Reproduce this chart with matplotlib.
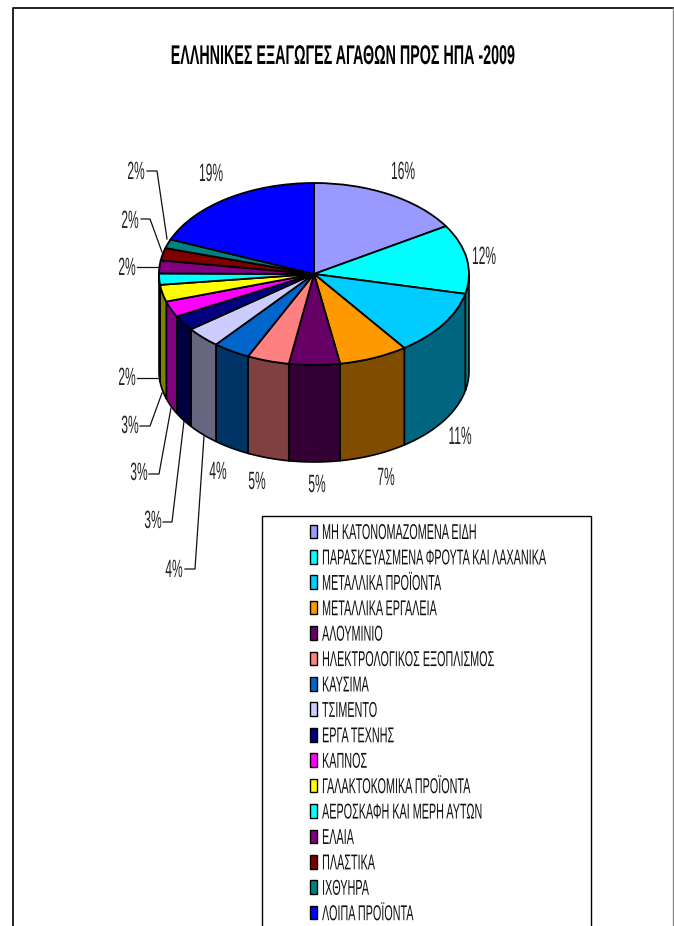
import matplotlib
matplotlib.use("Agg")
import matplotlib.pyplot as plt
from matplotlib.patches import Patch, Polygon, Rectangle
from matplotlib.patheffects import AbstractPathEffect
from matplotlib.transforms import Affine2D, Bbox
import numpy as np

plt.rcParams['font.family'] = ['Liberation Sans', 'DejaVu Sans']

title = "ΕΛΛΗΝΙΚΕΣ ΕΞΑΓΩΓΕΣ ΑΓΑΘΩΝ ΠΡΟΣ ΗΠΑ -2009"

categories = ["ΜΗ ΚΑΤΟΝΟΜΑΖΟΜΕΝΑ ΕΙΔΗ", "ΠΑΡΑΣΚΕΥΑΣΜΕΝΑ ΦΡΟΥΤΑ ΚΑΙ ΛΑΧΑΝΙΚΑ",
              "ΜΕΤΑΛΛΙΚΑ ΠΡΟΪΟΝΤΑ", "ΜΕΤΑΛΛΙΚΑ ΕΡΓΑΛΕΙΑ", "ΑΛΟΥΜΙΝΙΟ",
              "ΗΛΕΚΤΡΟΛΟΓΙΚΟΣ ΕΞΟΠΛΙΣΜΟΣ", "ΚΑΥΣΙΜΑ", "ΤΣΙΜΕΝΤΟ", "ΕΡΓΑ ΤΕΧΝΗΣ",
              "ΚΑΠΝΟΣ", "ΓΑΛΑΚΤΟΚΟΜΙΚΑ ΠΡΟΪΟΝΤΑ", "ΑΕΡΟΣΚΑΦΗ ΚΑΙ ΜΕΡΗ ΑΥΤΩΝ",
              "ΕΛΑΙΑ", "ΠΛΑΣΤΙΚΑ", "ΙΧΘΥΗΡΑ", "ΛΟΙΠΑ ΠΡΟΪΟΝΤΑ"]
values = [16.2, 12.3, 11.6, 7.2, 5.3, 4.4, 3.9, 3.7, 2.7, 2.8, 3.0, 2.0, 2.3, 2.2, 1.6, 18.8]
pct_labels = ["16%", "12%", "11%", "7%", "5%", "5%", "4%", "4%", "3%", "3%", "3%", "2%", "2%", "2%", "2%", "19%"]
colors = ["#9999FF", "#00FFFF", "#00CCFF", "#FF9900", "#660066", "#FF8080", "#0066CC", "#CCCCFF",
          "#000080", "#FF00FF", "#FFFF00", "#00FFFF", "#800080", "#800000", "#008080", "#0000FF"]
side_colors = ["#4D4D80", "#008080", "#006680", "#804D00", "#330033", "#804040", "#003366", "#666680",
               "#000040", "#800080", "#808000", "#008080", "#400040", "#400000", "#004040", "#000080"]

# label anchor in pixels, then leader line in pixels (None = no leader)
label_pos = [(403, 172), (484, 257), (460, 437), (386, 478), (317, 485), (257, 482), (218, 472),
             (174, 570), (153, 521), (139, 473), (130, 426), (127, 378), (127, 268), (130, 221),
             (136, 172), (211, 174)]
leaders = [None, None, None, None, None, None, None,
           [(185, 569), (195, 569), (204, 436)],
           [(163, 522), (172, 522), (184, 421)],
           [(149, 474), (159, 474), (171, 408)],
           [(140, 426), (150, 426), (162, 393)],
           [(137, 378), (159, 378)],
           [(137, 267), (159, 267)],
           [(141, 219), (150, 219), (162, 252)],
           [(147, 171), (157, 171), (167, 239)],
           None]

W, H = 674, 926
CX, CY, RX, RY, DEPTH = 314, 274, 155, 91, 97


def px(x, y):
    return (x - CX) / RX, (CY - y) / RY


class Squeeze(AbstractPathEffect):
    # the reference text is squashed sideways, no installed font is that narrow
    def __init__(self, text, sx):
        super().__init__()
        self.text, self.sx = text, sx

    def anchor(self):
        return self.text.get_transform().transform(self.text.get_position())[0]

    def draw_path(self, renderer, gc, tpath, affine, rgbFace=None):
        x0 = self.anchor()
        squash = Affine2D().translate(-x0, 0).scale(self.sx, 1).translate(x0, 0)
        renderer.draw_path(gc, tpath, affine + squash, rgbFace)


def squeeze(text, sx):
    effect = Squeeze(text, sx)
    text.set_path_effects([effect])
    plain_extent = text.get_window_extent

    def extent(renderer=None, dpi=None):
        bb = plain_extent(renderer, dpi)
        x0 = effect.anchor()
        return Bbox.from_extents(x0 + (bb.x0 - x0) * sx, bb.y0, x0 + (bb.x1 - x0) * sx, bb.y1)

    text.get_window_extent = extent


fig = plt.figure(figsize=(W / 100, H / 100), dpi=100)
ax = fig.add_axes([0, 0, 1, 1])

# side walls first, only the part of each slice facing the viewer (clock angle 90..270)
drop = DEPTH / RY
ends = np.cumsum(values) / np.sum(values) * 360
starts = np.r_[0, ends[:-1]]
for a0, a1, c in zip(starts, ends, side_colors):
    lo, hi = max(a0, 90), min(a1, 270)
    if hi <= lo:
        continue
    t = np.radians(np.linspace(lo, hi, 40))
    x, y = np.sin(t), np.cos(t)
    pts = np.r_[np.c_[x, y], np.c_[x[::-1], y[::-1] - drop]]
    ax.add_patch(Polygon(pts, closed=True, fc=c, ec="black", lw=1.2, zorder=1))

ax.pie(values, colors=colors, startangle=90, counterclock=False, radius=1,
       wedgeprops=dict(edgecolor="black", linewidth=1.3, zorder=2))
ax.set_aspect("auto")
ax.set_xlim(px(0, 0)[0], px(W, 0)[0])
ax.set_ylim(px(0, H)[1], px(0, 0)[1])
ax.axis("off")

# outer frame runs off the page at the bottom
xs, ys = zip(*[px(12.5, H), px(12.5, 8), px(673, 8)])
ax.plot(xs, ys, color="#222222", lw=1.4, zorder=0)
xs, ys = zip(*[px(673, 8), px(673, H)])
ax.plot(xs, ys, color="#888888", lw=1.0, zorder=0)

tt = ax.text(*px(343.5, 57), title, fontsize=19.5, fontweight="bold", ha="center", va="center")
squeeze(tt, 0.528)

for lab, pos, lead in zip(pct_labels, label_pos, leaders):
    tx = ax.text(*px(*pos), lab, fontsize=18, color="#222222", ha="center", va="center", zorder=5)
    squeeze(tx, 0.48)
    if lead:
        lx, ly = zip(*[px(*p) for p in lead])
        ax.plot(lx, ly, color="#111111", lw=0.9, zorder=4)

# legend box is cut by the page bottom
x0, y1 = px(262, 516)
x1, y0 = px(591, H + 30)
ax.add_patch(Rectangle((x0, y0), x1 - x0, y1 - y0, fc="white", ec="black", lw=1.0, zorder=3))
handles = [Patch(fc=c, ec="black", lw=1.0, label=n) for c, n in zip(colors, categories)]
leg = ax.legend(handles=handles, loc="upper left", bbox_to_anchor=(310 / W, 1 - 523 / H),
                bbox_transform=fig.transFigure, frameon=False, fontsize=15.5,
                handlelength=0.33, handleheight=0.6, handletextpad=0.23,
                labelspacing=0.205, borderpad=0, borderaxespad=0)
leg.set_zorder(6)
for lt in leg.get_texts():
    lt.set_color("#111111")
    squeeze(lt, 0.502)

fig.savefig("out.png", dpi=100)
